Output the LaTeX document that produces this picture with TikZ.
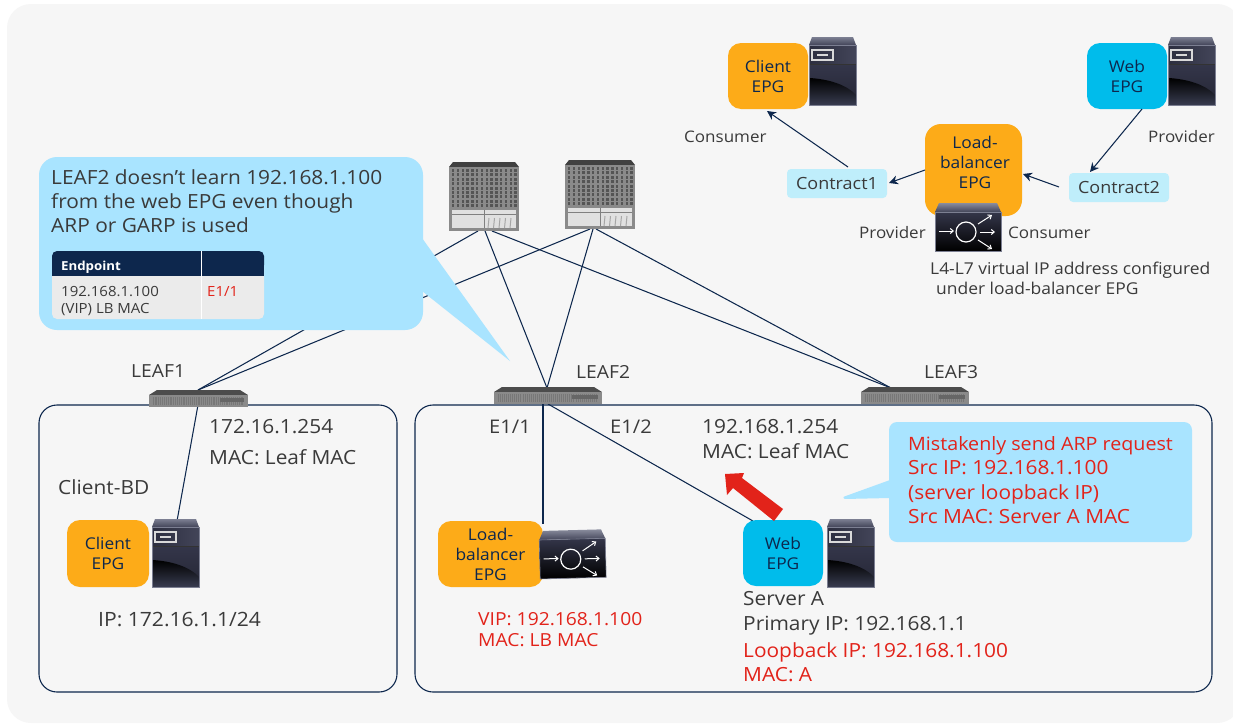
\documentclass[tikz,border=0pt]{standalone}
\usepackage{fontspec}
\setmainfont[FakeStretch=1.07]{Open Sans}
\usetikzlibrary{arrows.meta}
\definecolor{pagebg}{HTML}{F6F6F6}
\definecolor{navy}{HTML}{0D274D}
\definecolor{epgorange}{HTML}{FDAB18}
\definecolor{epgblue}{HTML}{00BCEB}
\definecolor{callout}{HTML}{A9E4FF}
\definecolor{contractc}{HTML}{BFEEFB}
\definecolor{alertred}{HTML}{E2231A}
\definecolor{txt}{HTML}{3A3A3A}
\definecolor{tablegray}{HTML}{EBEBEB}
\definecolor{srvtop}{HTML}{7C7F92}
\definecolor{srvmid}{HTML}{34364A}
\definecolor{srvlow}{HTML}{2C3044}
\definecolor{spinegray}{HTML}{8A8A8A}
\definecolor{spineslot}{HTML}{555555}
\newcommand{\fsz}[1]{\fontsize{#1}{20}\selectfont}
\tikzset{
  x=1pt,y=-1pt,
  lbl/.style={inner sep=0pt,anchor=base west,text=txt,font=\fsz{19.5}},
  redlbl/.style={lbl,text=alertred},
  toplbl/.style={lbl,font=\fsz{15.9}},
  notelbl/.style={lbl,font=\fsz{16.3}},
  leaflbl/.style={lbl,font=\fsz{18}},
  epg/.style={rounded corners=13pt,inner sep=0pt,align=center,text=navy,font=\fsz{16.2}},
  contract/.style={fill=contractc,rounded corners=4pt,inner sep=0pt,minimum width=100pt,minimum height=29pt,text=txt,font=\fsz{16.8}},
  link/.style={draw=navy,line width=1.05pt},
  relarrow/.style={link,-{Stealth[length=9pt,width=9pt]}},
  bdbox/.style={draw=navy,line width=1.1pt,rounded corners=18pt},
}
% server icon: top-left corner at x,y
\newcommand{\serverpic}[2]{%
\begin{scope}[shift={(#1,#2)}]
  \shade[top color=srvtop,bottom color=srvmid!80!srvtop] (3,0)--(44,0)--(47,8)--(0,8)--cycle;
  \shade[left color=srvmid!85!black,right color=srvmid!80!srvtop] (0,8) rectangle (47,27);
  \shade[top color=srvmid,bottom color=srvmid!70!black] (0,27) rectangle (47,68);
  \shade[top color=black,bottom color=srvlow!85!srvtop] (0,41) .. controls (20,42) and (38,48) .. (47,58) -- (47,68) -- (0,68) -- cycle;
  \draw[black!80,line width=.5pt] (0,27) -- (47,27);
  \draw[srvtop,line width=.6pt] (0,8) rectangle (47,68);
  \draw[white!85!black,line width=1.1pt] (3,13) rectangle (24,23);
  \draw[white!85!black,line width=1.1pt] (8,18) -- (19,18);
\end{scope}}
% load balancer icon
\newcommand{\lbpic}[3]{%
\begin{scope}[shift={(#1,#2)},rotate=#3]
  \shade[top color=srvtop!90!white,bottom color=srvmid!80!srvtop] (4,0)--(62,0)--(66,9)--(0,9)--cycle;
  \shade[top color=srvmid,bottom color=black] (0,9) rectangle (66,48);
  \draw[srvtop,line width=.6pt] (0,9) rectangle (66,48);
  \draw[white,line width=1.2pt] (31,29) circle (10);
  \begin{scope}[white,line width=1pt,-{Straight Barb[length=3pt,width=5pt]}]
    \draw (4,28) -- (19,28);
    \draw (43,21) -- (57,12);
    \draw (45,29) -- (60,29);
    \draw (43,37) -- (57,46);
  \end{scope}
\end{scope}}
% spine icon
\newcommand{\spinepic}[2]{%
\begin{scope}[shift={(#1,#2)}]
  \fill[black!75] (4,0)--(66,0)--(70,5)--(0,5)--cycle;
  \fill[spinegray] (0,5) rectangle (70,69);
  \foreach \r in {0,...,8} \foreach \c in {0,...,13}
    \fill[spineslot] ({3+\c*4.8},{7+\r*4.4}) rectangle ++(2.4,3);
  \fill[white!88!black] (3,48) rectangle (67,66);
  \draw[gray,line width=.6pt] (3,52) -- (67,52) (35,48) -- (35,66);
  \foreach \c in {0,...,4} \draw[gray!70,line width=1pt] ({40+\c*5.5},56) -- ({39+\c*5.5},66);
\end{scope}}
% leaf icon
\newcommand{\leafpic}[3]{%
\begin{scope}[shift={(#1,#2)}]
  \fill[black!70] (8,0)--({#3-8},0)--(#3,5)--(0,5)--cycle;
  \fill[spinegray] (0,5) rectangle (#3,17);
  \foreach \c in {2,...,50}
    \fill[spineslot!80] ({\c*#3/53},7) rectangle ++(.9,8);
  \fill[black!60] ({#3*.72},8) rectangle ({#3*.96},12);
\end{scope}}
\begin{document}
\begin{tikzpicture}
\useasboundingbox (0,0) rectangle (1233,723);
\fill[white] (0,0) rectangle (1233,723);
\begin{scope}
\clip (0,0) rectangle (1233,723);
\fill[pagebg,rounded corners=24pt] (7,4) rectangle (1241,723);
\end{scope}

% bridge domains
\node[bdbox,minimum width=358pt,minimum height=287pt,inner sep=0pt] (bdL) at (218,548.5) {};
\node[bdbox,minimum width=797pt,minimum height=287pt,inner sep=0pt] (bdR) at (813.5,548.5) {};

% named attachment points
\coordinate (s1a) at (478,231); \coordinate (s1b) at (485,231); \coordinate (s1c) at (492,231);
\coordinate (s2a) at (590,229); \coordinate (s2b) at (593,229); \coordinate (s2c) at (596,229);
\coordinate (l1t) at (198,390); \coordinate (l2t) at (547,388); \coordinate (l3t) at (891,388);
\coordinate (l1b) at (198,405); \coordinate (l2b) at (543,404); \coordinate (l2c) at (548,404);
\coordinate (ceBot) at (177,521); \coordinate (lbTop) at (543,524); \coordinate (weTop) at (753,521);

% fabric links
\draw[link] (s1a) -- (l1t);
\draw[link] (s2a) -- (l1t);
\draw[link] (s1b) -- (l2t);
\draw[link] (s2b) -- (l2t);
\draw[link] (s1c) -- (l3t);
\draw[link] (s2c) -- (l3t);
\draw[link] (l1b) -- (ceBot);
\draw[link] (l2b) -- (lbTop);
\draw[link] (l2c) -- (weTop);

% switches
\spinepic{449}{162}
\spinepic{565}{160}
\leafpic{149}{390}{99}
\leafpic{494}{387}{108}
\leafpic{861}{387}{108}
\node[leaflbl] (leaf1) at (131,377) {LEAF1};
\node[leaflbl] (leaf2) at (576,378) {LEAF2};
\node[leaflbl] (leaf3) at (924,378) {LEAF3};

% big callout
\fill[callout,rounded corners=18pt] (39,157) rectangle (423,330);
\fill[callout] (422,238) -- (510,361) -- (422,291) -- cycle;
\node[lbl] (c1a) at (51,184) {LEAF2 doesn’t learn 192.168.1.100};
\node[lbl] (c1b) at (51,208) {from the web EPG even though};
\node[lbl] (c1c) at (51,232) {ARP or GARP is used};
% table
\fill[tablegray,rounded corners=5pt] (52,262) rectangle (264,319);
\fill[navy,rounded corners=5pt] (52,251) rectangle (264,270);
\fill[navy] (52,262) rectangle (264,276);
\draw[white,line width=.7pt] (201,251) -- (201,319);
\node[lbl,text=white,font=\bfseries\fsz{12.4}] (thA) at (61,270) {Endpoint};
\node[lbl,font=\fsz{14}] (tdA) at (61,296) {192.168.1.100};
\node[lbl,font=\fsz{14}] (tdB) at (61,313) {(VIP) LB MAC};
\node[redlbl,font=\fsz{14}] (tdC) at (207,296) {E1/1};

% left BD
\node[lbl] (a1) at (209,433) {172.16.1.254};
\node[lbl] (a2) at (209,464) {MAC: Leaf MAC};
\node[lbl] (a3) at (58,494) {Client-BD};
\node[lbl,font=\fsz{19.7}] (a4) at (98,626) {IP: 172.16.1.1/24};
\node[epg,fill=epgorange,minimum width=82pt,minimum height=67pt] (ce) at (108,553.5) {Client\\EPG};
\serverpic{152}{519}

% right BD
\node[lbl,font=\fsz{18.8}] (b1) at (489,433) {E1/1};
\node[lbl,font=\fsz{18.8}] (b2) at (610,433) {E1/2};
\node[lbl] (b3) at (702,433) {192.168.1.254};
\node[lbl] (b4) at (702,458) {MAC: Leaf MAC};
\node[epg,fill=epgorange,minimum width=105pt,minimum height=66pt] (lbe) at (490.5,554) {Load-\\balancer\\EPG};
\lbpic{539}{531}{1.5}
\node[redlbl,font=\fsz{18}] (b5) at (478,625) {VIP: 192.168.1.100};
\node[redlbl,font=\fsz{18}] (b6) at (478,646) {MAC: LB MAC};
\node[epg,fill=epgblue,minimum width=80pt,minimum height=66pt] (we) at (783,553) {Web\\EPG};
\serverpic{827}{519}
\node[lbl] (b7) at (743,605) {Server A};
\node[lbl] (b8) at (743,630) {Primary IP: 192.168.1.1};
\node[redlbl] (b9) at (743,657) {Loopback IP: 192.168.1.100};
\node[redlbl] (b10) at (743,681) {MAC: A};

% red arrow
\fill[alertred] (783,509) -- (774,521) -- (733,488) -- (727,495) -- (725,474) -- (744,473) -- (742,478) -- cycle;

% small callout
\fill[callout,rounded corners=8pt] (889,422) rectangle (1192,542);
\fill[callout,rounded corners=1pt] (890,480) -- (843,497) -- (844,499) -- (890,498) -- cycle;
\node[redlbl,font=\fsz{18.4}] (d1) at (908,450) {Mistakenly send ARP request};
\node[redlbl] (d2) at (908,474) {Src IP: 192.168.1.100};
\node[redlbl] (d3) at (908,499) {(server loopback IP)};
\node[redlbl] (d4) at (908,523) {Src MAC: Server A MAC};

% contract diagram
\node[epg,fill=epgorange,minimum width=80pt,minimum height=66pt] (tce) at (768,76) {Client\\EPG};
\serverpic{809}{37}
\node[epg,fill=epgblue,minimum width=80pt,minimum height=66pt] (twe) at (1127,76) {Web\\EPG};
\serverpic{1168}{37}
\node[epg,fill=epgorange,minimum width=97pt,minimum height=92pt,rounded corners=16pt] (tlb) at (973.5,170) {};
\node[inner sep=0pt,align=center,text=navy,font=\fsz{16.2}] (tlbtext) at (975,162) {Load-\\balancer\\EPG};
\lbpic{935}{203}{0}
\node[contract] (con1) at (837,183.5) {Contract1};
\node[contract] (con2) at (1119,187.5) {Contract2};
\coordinate (con1t) at (848,167);
\coordinate (tceB) at (767,111);
\coordinate (tweB) at (1142,109);
\coordinate (con2t) at (1090,172);
\coordinate (tlbL) at (925,170);
\coordinate (con1r) at (889,183);
\coordinate (con2l) at (1059,187);
\coordinate (tlbR) at (1023,174);
\draw[relarrow] (con1t) -- (tceB);
\draw[relarrow] (tweB) -- (con2t);
\draw[relarrow] (tlbL) -- (con1r);
\draw[relarrow] (con2l) -- (tlbR);
\node[toplbl] (e1) at (684,142) {Consumer};
\node[toplbl] (e2) at (1148,142) {Provider};
\node[toplbl] (e3) at (859,238) {Provider};
\node[toplbl] (e4) at (1008,238) {Consumer};
\node[notelbl] (e5) at (930,274) {L4-L7 virtual IP address configured};
\node[notelbl] (e6) at (936,294) {under load-balancer EPG};
\end{tikzpicture}
\end{document}
